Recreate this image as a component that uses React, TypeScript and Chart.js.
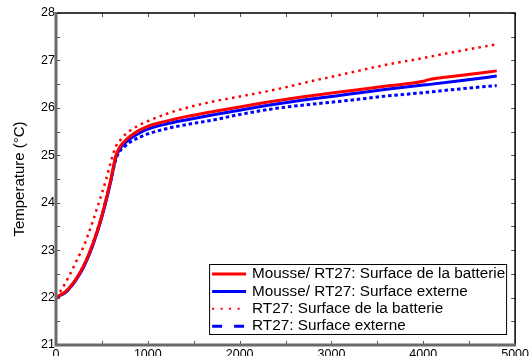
import React, { useEffect, useRef } from "react";
import { Chart, registerables } from "chart.js";

Chart.register(...registerables);

// Time (s) sample points shared by all four curves
const times = [0, 50, 100, 150, 200, 250, 300, 350, 400, 450, 500, 550, 600, 650, 700, 750, 800, 900, 1000, 1200, 1400, 1700, 2000, 2400, 2800, 3200, 3600, 4000, 4050, 4400, 4800];

// Mousse/ RT27: battery surface (°C)
const mousseBatterie = [22.0, 22.06, 22.12, 22.22, 22.34, 22.49, 22.67, 22.88, 23.13, 23.41, 23.73, 24.1, 24.52, 24.98, 25.19, 25.3, 25.39, 25.52, 25.61, 25.72, 25.81, 25.92, 26.02, 26.15, 26.26, 26.36, 26.46, 26.56, 26.59, 26.68, 26.78];
// Mousse/ RT27: external surface (°C)
const mousseExterne = [21.98, 22.05, 22.1, 22.2, 22.32, 22.47, 22.64, 22.85, 23.1, 23.38, 23.7, 24.07, 24.48, 24.94, 25.15, 25.26, 25.34, 25.46, 25.55, 25.66, 25.74, 25.85, 25.95, 26.08, 26.19, 26.29, 26.39, 26.48, 26.49, 26.57, 26.67];
// RT27: battery surface (°C)
const rtBatterie = [22.0, 22.14, 22.3, 22.48, 22.68, 22.88, 23.07, 23.33, 23.6, 23.9, 24.2, 24.52, 24.88, 25.18, 25.32, 25.43, 25.51, 25.63, 25.72, 25.87, 25.99, 26.13, 26.24, 26.39, 26.57, 26.74, 26.91, 27.05, 27.07, 27.2, 27.34];
// RT27: external surface (°C)
const rtExterne = [21.98, 22.05, 22.11, 22.21, 22.33, 22.48, 22.66, 22.87, 23.12, 23.41, 23.73, 24.1, 24.5, 24.9, 25.1, 25.19, 25.27, 25.37, 25.45, 25.56, 25.64, 25.74, 25.86, 25.99, 26.08, 26.16, 26.25, 26.32, 26.33, 26.4, 26.47];

const seriesLabels = [
  "Mousse/ RT27: Surface de la batterie",
  "Mousse/ RT27: Surface externe",
  "RT27: Surface de la batterie",
  "RT27: Surface externe",
];

const yTickLabels = ["21", "22", "23", "24", "25", "26", "27", "28"];
const xTickLabels = ["0", "1000", "2000", "3000", "4000", "5000"];

const FONT = "'Liberation Sans', Arial, Helvetica, sans-serif";

const toPoints = (vals: number[]) => times.map((t, i) => ({ x: t, y: vals[i] }));

// Box frame with inward tick marks (gray left/bottom axes, black top/right)
const framePlugin = {
  id: "frame",
  afterDatasetsDraw(chart: any) {
    const { ctx, chartArea: a, scales } = chart;
    const xs = scales.x;
    const ys = scales.y;
    ctx.save();
    ctx.lineCap = "butt";
    // inward ticks
    ctx.strokeStyle = "#555";
    ctx.lineWidth = 1;
    for (let v = 21; v <= 28.001; v += 0.5) {
      const y = Math.round(ys.getPixelForValue(v)) + 0.5;
      ctx.beginPath();
      ctx.moveTo(a.left, y);
      ctx.lineTo(a.left + 4, y);
      ctx.moveTo(a.right, y);
      ctx.lineTo(a.right - 4, y);
      ctx.stroke();
    }
    for (let v = 0; v <= 5000; v += 500) {
      const x = Math.round(xs.getPixelForValue(v)) + 0.5;
      ctx.beginPath();
      ctx.moveTo(x, a.bottom);
      ctx.lineTo(x, a.bottom - 4);
      ctx.moveTo(x, a.top);
      ctx.lineTo(x, a.top + 4);
      ctx.stroke();
    }
    // top and right border
    ctx.strokeStyle = "#000";
    ctx.lineWidth = 1.5;
    ctx.beginPath();
    ctx.moveTo(a.left, a.top);
    ctx.lineTo(a.right, a.top);
    ctx.lineTo(a.right, a.bottom);
    ctx.stroke();
    // left and bottom axes
    ctx.strokeStyle = "#6a6a6a";
    ctx.lineWidth = 3;
    ctx.beginPath();
    ctx.moveTo(a.left, a.top - 1);
    ctx.lineTo(a.left, a.bottom);
    ctx.lineTo(a.right + 1, a.bottom);
    ctx.stroke();
    ctx.restore();
  },
};

// Legend dash patterns for the sample lines
const legendDashes = [[], [], [2, 6.5], [10, 12]];

const legendPlugin = {
  id: "boxLegend",
  afterDraw(chart: any) {
    const { ctx, chartArea: a } = chart;
    const boxRight = a.right - 9;
    const boxLeft = boxRight - 297;
    const boxBottom = a.bottom - 11;
    const boxTop = boxBottom - 70;
    ctx.save();
    ctx.fillStyle = "#fff";
    ctx.fillRect(boxLeft, boxTop, boxRight - boxLeft, boxBottom - boxTop);
    ctx.strokeStyle = "#000";
    ctx.lineWidth = 1;
    ctx.strokeRect(boxLeft + 0.5, boxTop + 0.5, boxRight - boxLeft, boxBottom - boxTop);
    ctx.font = `15.3px ${FONT}`;
    ctx.textBaseline = "middle";
    chart.data.datasets.forEach((ds: any, i: number) => {
      const y = boxTop + 10 + i * 17.4;
      ctx.strokeStyle = ds.borderColor;
      ctx.lineWidth = i === 2 ? 2 : 3;
      ctx.setLineDash(legendDashes[i]);
      ctx.beginPath();
      ctx.moveTo(boxLeft + 3, y);
      ctx.lineTo(boxLeft + 37, y);
      ctx.stroke();
      ctx.setLineDash([]);
      ctx.fillStyle = "#000";
      ctx.fillText(ds.label, boxLeft + 43, y);
    });
    ctx.restore();
  },
};

export default function App() {
  const canvasRef = useRef<HTMLCanvasElement | null>(null);

  useEffect(() => {
    if (!canvasRef.current) return;
    const chart = new Chart(canvasRef.current, {
      type: "line",
      data: {
        datasets: [
          {
            label: seriesLabels[0],
            data: toPoints(mousseBatterie),
            borderColor: "#ff0000",
            borderWidth: 3,
            pointRadius: 0,
            cubicInterpolationMode: "monotone",
          },
          {
            label: seriesLabels[1],
            data: toPoints(mousseExterne),
            borderColor: "#0000ff",
            borderWidth: 3,
            pointRadius: 0,
            cubicInterpolationMode: "monotone",
          },
          {
            label: seriesLabels[2],
            data: toPoints(rtBatterie),
            borderColor: "#ff0000",
            borderWidth: 2.5,
            borderDash: [2.5, 4.3],
            pointRadius: 0,
            cubicInterpolationMode: "monotone",
          },
          {
            label: seriesLabels[3],
            data: toPoints(rtExterne),
            borderColor: "#0000ff",
            borderWidth: 3,
            borderDash: [3.5, 2.8],
            pointRadius: 0,
            cubicInterpolationMode: "monotone",
          },
        ],
      },
      options: {
        responsive: false,
        animation: false,
        devicePixelRatio: 1,
        layout: { padding: { top: 13, right: 12, left: 0, bottom: 0 } },
        plugins: { legend: { display: false }, tooltip: { enabled: false } },
        scales: {
          x: {
            type: "linear",
            min: 0,
            max: 5000,
            grid: { display: false, drawTicks: false },
            border: { display: false },
            afterFit: (s: any) => {
              s.height = 11;
            },
            afterBuildTicks: (s: any) => {
              s.ticks = xTickLabels.map((t) => ({ value: Number(t) }));
            },
            ticks: {
              autoSkip: false,
              maxRotation: 0,
              padding: 2,
              color: "#000",
              font: { family: FONT, size: 12.5 },
              callback: (v: any) => String(v),
            },
          },
          y: {
            min: 21,
            max: 28,
            grid: { display: false, drawTicks: false },
            border: { display: false },
            afterFit: (s: any) => {
              s.width = 56;
            },
            afterBuildTicks: (s: any) => {
              s.ticks = yTickLabels.map((t) => ({ value: Number(t) }));
            },
            ticks: {
              autoSkip: false,
              padding: 1,
              color: "#000",
              font: { family: FONT, size: 12.5 },
              callback: (v: any) => String(v),
            },
            title: {
              display: true,
              text: "Temperature (°C)",
              color: "#000",
              font: { family: FONT, size: 15 },
              padding: { top: 11, bottom: 0 },
            },
          },
        },
      },
      plugins: [framePlugin, legendPlugin],
    });
    return () => chart.destroy();
  }, []);

  return (
    <div style={{ position: "fixed", left: 0, top: 0, width: 531, height: 356, background: "#fff" }}>
      <canvas ref={canvasRef} width={531} height={356} />
    </div>
  );
}
